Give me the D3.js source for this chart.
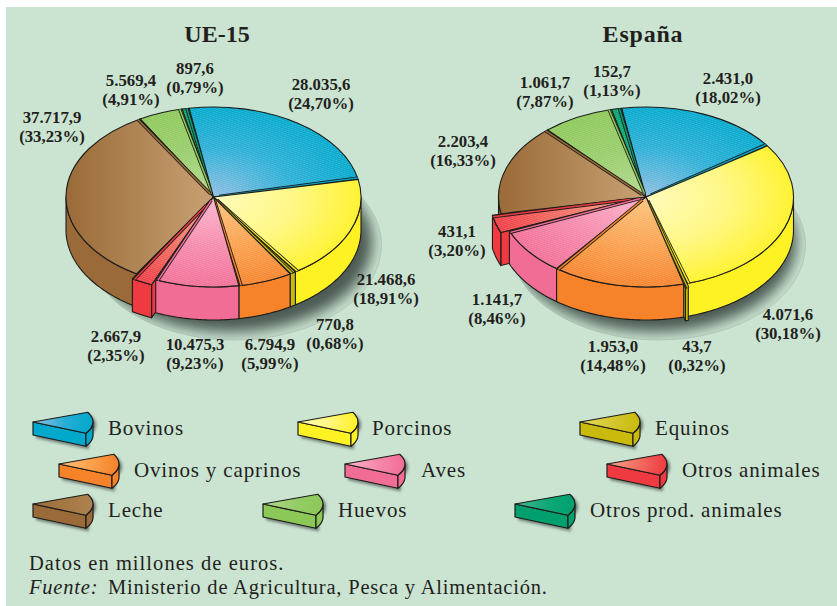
<!DOCTYPE html>
<html><head><meta charset="utf-8">
<script src="https://cdn.jsdelivr.net/npm/d3@7"></script>
<style>html,body{margin:0;padding:0;background:#fff}svg{display:block}text{font-family:"Liberation Serif",serif;fill:#231f20}</style>
</head><body><svg id="c" width="837" height="606"></svg>
<script>
// ---------- data ----------
const categories = ["Bovinos","Porcinos","Equinos","Ovinos y caprinos","Aves","Otros animales","Leche","Huevos","Otros prod. animales"];
const valuesUE = [28035.6,21468.6,770.8,6794.9,10475.3,2667.9,37717.9,5569.4,897.6];
const percentUE = [24.70,18.91,0.68,5.99,9.23,2.35,33.23,4.91,0.79];
const valuesES = [2431.0,4071.6,43.7,1953.0,1141.7,431.1,2203.4,1061.7,152.7];
const percentES = [18.02,30.18,0.32,14.48,8.46,3.20,16.33,7.87,1.13];
const footnote = "Datos en millones de euros.";
const sourceLabel = "Fuente:";
const sourceText = "Ministerio de Agricultura, Pesca y Alimentación.";

// ---------- styles ----------
const wallColors = ["#00a8cc","#fff224","#c9ba0c","#f6822a","#f26d96","#ef3a42","#9a6b38","#8cc858","#00a06e"];
const innerColors = ["#8dbde0","#fffbb8","#e4da5a","#fdc27a","#fcb4cc","#f7a58c","#cba577","#b2d98e","#40b890"];
const midColors = ["#28aed6","#fff77c","#d5c830","#faa04c","#f689ac","#f26a60","#b08552","#96cc68","#10a878"];
const spainExplode = [0,0,6.5,0,0,9,0,0,0];
const ueExplode = [0,0,0,0,0,9,0,0,0];
const startDeg = -9.5, R = 147.5, RY = 90, DEPTH = 33;

const es = d3.formatLocale({decimal:",",thousands:".",grouping:[3],currency:["",""]});
const fmtV = es.format(",.1f"), fmtP = es.format(".2f");

const svg = d3.select("#c");
svg.append("rect").attr("x",6).attr("y",7).attr("width",831).attr("height",599).attr("fill","#cbe4d2");

const defs = svg.append("defs");
defs.append("filter").attr("id","blur").attr("x","-20%").attr("y","-20%").attr("width","140%").attr("height","140%")
  .append("feGaussianBlur").attr("stdDeviation",7);
defs.append("filter").attr("id","blur2").attr("x","-30%").attr("y","-30%").attr("width","160%").attr("height","160%")
  .append("feGaussianBlur").attr("stdDeviation",1.6);
wallColors.forEach((c,i)=>{
  if(i===6){ // milk is shaded left to right
    const g = defs.append("linearGradient").attr("id","grad6").attr("gradientUnits","userSpaceOnUse")
      .attr("x1",-R).attr("y1",0).attr("x2",0).attr("y2",0);
    g.append("stop").attr("offset","0%").attr("stop-color","#9a6b38");
    g.append("stop").attr("offset","100%").attr("stop-color","#c8a173");
    const l = defs.append("linearGradient").attr("id","legend6").attr("gradientUnits","userSpaceOnUse")
      .attr("x1",0).attr("y1",0).attr("x2",R).attr("y2",0);
    l.append("stop").attr("offset","0%").attr("stop-color","#9a6b38");
    l.append("stop").attr("offset","100%").attr("stop-color","#ad8350");
    return;
  }
  const g = defs.append("radialGradient").attr("id","grad"+i).attr("gradientUnits","userSpaceOnUse")
    .attr("cx",0).attr("cy",0).attr("r",R);
  g.append("stop").attr("offset","0%").attr("stop-color",innerColors[i]);
  g.append("stop").attr("offset","55%").attr("stop-color",midColors[i]);
  g.append("stop").attr("offset","100%").attr("stop-color",c);
});
const hatch = defs.append("pattern").attr("id","hatch").attr("patternUnits","userSpaceOnUse")
  .attr("width",3).attr("height",3).attr("patternTransform","rotate(28)");
hatch.append("rect").attr("width",3).attr("height",1.2).attr("fill","#fff").attr("opacity",.18);

const arcGen = d3.arc().innerRadius(0).outerRadius(R);
const poly = d3.line();
const OUT = "#1d1d1b";

// One 3-D wedge. k = overall scale; ratio = vertical squash; depth = wall height.
function wedge(g, a0, a1, i, o){
  const {cx,cy,k,ratio,depth,explode=0,hatched=true,sw=1.1} = o;
  const mid=(a0+a1)/2;
  const ox = cx + explode*Math.sin(mid), oy = cy - explode*Math.cos(mid)*ratio;
  const P = a => [ox + k*R*Math.sin(a), oy - k*R*ratio*Math.cos(a)];
  const down = p => [p[0],p[1]+depth];
  const node = g.append("g");
  const wall = pts => node.append("path").attr("d",poly(pts)+"Z").attr("fill",wallColors[i])
      .attr("stroke",OUT).attr("stroke-width",sw).attr("stroke-linejoin","round");
  const apex=[ox,oy];
  // radial cut walls that face the viewer
  if(explode>0 || o.showCuts){
    if(Math.sin(a1)>0){ const p=P(a1); wall([apex,p,down(p),down(apex)]); }
    if(Math.sin(a0)<0){ const p=P(a0); wall([apex,p,down(p),down(apex)]); }
  }
  // outer wall, only the part on the near side of the ellipse
  const lo=Math.max(a0,Math.PI/2), hi=Math.min(a1,Math.PI*1.5);
  if(hi>lo){
    const angs=d3.range(0,61).map(t=>lo+(hi-lo)*t/60);
    const top=angs.map(P);
    wall(top.concat(top.slice().reverse().map(down)));
  }
  // top face
  const top=node.append("g").attr("transform",`translate(${ox},${oy}) scale(${k},${k*ratio})`);
  const d=arcGen({startAngle:a0,endAngle:a1});
  top.append("path").attr("d",d).attr("fill",(o.showCuts&&i===6)?"url(#legend6)":`url(#grad${i})`);
  if(hatched && i!==6) top.append("path").attr("d",d).attr("fill","url(#hatch)");
  top.append("path").attr("d",d).attr("fill","none").attr("stroke",OUT).attr("stroke-width",sw)
     .attr("stroke-linejoin","round").attr("vector-effect","non-scaling-stroke");
  // bevel strip along the closing edge of the wedge
  if(hatched){
    const e=a1-0.016, q=[ox+k*R*Math.sin(e),oy-k*R*ratio*Math.cos(e)];
    const s=[ox+6*Math.sin(e),oy-6*ratio*Math.cos(e)];
    node.append("path").attr("d",poly([s,q])).attr("stroke",OUT).attr("stroke-width",3.2).attr("fill","none");
    node.append("path").attr("d",poly([s,q])).attr("stroke",wallColors[i]).attr("stroke-width",1.5).attr("fill","none");
  }
}

function drawPie(id, values, explode, cx, cy, sx, sy){
  const g = svg.append("g");
  // cast shadow, confined to a thin-lined ellipse on the ground
  defs.append("clipPath").attr("id","clip"+id).append("ellipse").attr("cx",sx).attr("cy",sy).attr("rx",R).attr("ry",95);
  g.append("g").attr("clip-path",`url(#clip${id})`)
   .append("ellipse").attr("cx",sx-4).attr("cy",sy-3).attr("rx",R-5).attr("ry",RY)
    .attr("fill","#35423c").attr("opacity",.85).attr("filter","url(#blur)");
  g.append("ellipse").attr("cx",sx).attr("cy",sy).attr("rx",R).attr("ry",95)
    .attr("fill","none").attr("stroke","#9fb5a6").attr("stroke-width",.6);
  const s0=startDeg*Math.PI/180;
  const arcs = d3.pie().sort(null).startAngle(s0).endAngle(s0+2*Math.PI)(values);
  // paint from the back of the pie to the front
  const order = arcs.slice().sort((a,b)=>{
    const ma=(a.startAngle+a.endAngle)/2, mb=(b.startAngle+b.endAngle)/2;
    return -Math.cos(ma)+Math.cos(mb);
  });
  order.forEach(a=>wedge(g,a.startAngle,a.endAngle,a.index,{cx,cy,k:1,ratio:RY/R,depth:DEPTH,explode:explode[a.index]}));
}
drawPie("ue",valuesUE,ueExplode,213.5,197,234,245);
drawPie("es",valuesES,spainExplode,646,197,658,245);

// titles
svg.append("text").attr("x",217).attr("y",42).attr("text-anchor","middle").attr("font-weight","bold").attr("font-size",24).text("UE-15");
svg.append("text").attr("x",643).attr("y",42).attr("text-anchor","middle").attr("font-weight","bold").attr("font-size",24).attr("letter-spacing",.8).text("España");

// value labels
const labelPosUE = [[321,90],[386,285],[335,330],[270,350],[195,350],[116,342],[52,123],[131,86],[195,74]];
const labelPosES = [[728,84],[788,320],[697,352],[613,352],[497,305],[457,237],[463,147],[545,88],[612,77]];
function labels(values,perc,pos){
  values.forEach((v,i)=>{
    const t=svg.append("text").attr("text-anchor","middle").attr("font-weight","bold").attr("font-size",16.8)
      .attr("x",pos[i][0]).attr("y",pos[i][1]);
    t.append("tspan").attr("x",pos[i][0]).text(fmtV(v));
    t.append("tspan").attr("x",pos[i][0]).attr("dy",18.5).text(`(${fmtP(perc[i])}%)`);
  });
}
labels(valuesUE,percentUE,labelPosUE);
labels(valuesES,percentES,labelPosES);

// legend
const legendX = [33,298,580,59,345,607,33,263,515];
const legendTextX = [108,372,655,134,421,682,108,338,590];
const legendY = [422,422,422,464,464,464,504,504,504];
const legendBase = [435,435,435,477,477,477,517,517,517];
const legendK = 60/R, legendRatio = .4, legendDepth = 13;
const legA0 = 66*Math.PI/180, legA1 = 118*Math.PI/180;
categories.forEach((c,i)=>{
  const g=svg.append("g");
  const oo={cx:legendX[i],cy:legendY[i],k:legendK,ratio:legendRatio,depth:legendDepth,hatched:false,showCuts:true,sw:1.2};
  const sh=g.append("g").attr("transform","translate(3,3)").attr("filter","url(#blur2)").attr("opacity",.55);
  sh.append("path").attr("fill","#222").attr("d",()=>{
    const P=a=>[legendX[i]+legendK*R*Math.sin(a),legendY[i]-legendK*R*legendRatio*Math.cos(a)];
    const angs=d3.range(0,21).map(t=>legA0+(legA1-legA0)*t/20);
    const top=angs.map(P);
    return poly([[legendX[i],legendY[i]],...top,[top[20][0],top[20][1]+legendDepth],[legendX[i],legendY[i]+legendDepth]])+"Z";
  });
  wedge(g,legA0,legA1,i,oo);
  svg.append("text").attr("x",legendTextX[i]).attr("y",legendBase[i]).attr("font-size",21).attr("letter-spacing",.85).text(c);
});

// footer
svg.append("text").attr("x",29).attr("y",570).attr("font-size",20.5).attr("letter-spacing",1.05).text(footnote);
svg.append("text").attr("x",29).attr("y",594).attr("font-size",20.5).attr("letter-spacing",.8).attr("font-style","italic").text(sourceLabel);
svg.append("text").attr("x",108).attr("y",594).attr("font-size",20.5).attr("letter-spacing",.8).text(sourceText);
</script></body></html>
